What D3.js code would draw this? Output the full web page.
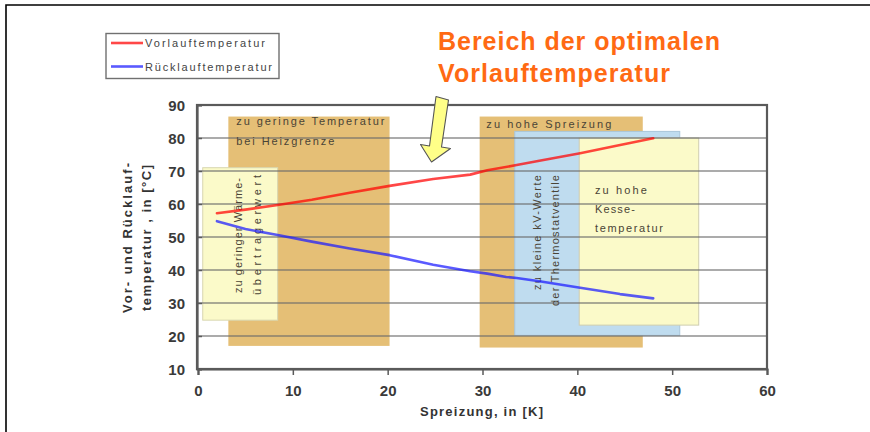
<!DOCTYPE html>
<html><head><meta charset="utf-8">
<script src="https://cdn.jsdelivr.net/npm/d3@7"></script>
<style>
html,body{margin:0;padding:0;background:#fff;}
svg{display:block;font-family:"Liberation Sans",Arial,sans-serif;}
</style></head>
<body><svg id="c" width="870" height="432"></svg>
<script>
// ---------- data ----------
const xTicks = [0, 10, 20, 30, 40, 50, 60];
const yTicks = [10, 20, 30, 40, 50, 60, 70, 80, 90];
const seriesNames = ["Vorlauftemperatur", "Rücklauftemperatur"];
const spreizungVor = [2, 5, 8.4, 12, 16, 20.2, 24.8, 28.7, 30.5, 33.6, 36, 40.3, 44, 48];
const vorlauf      = [57.2, 58.3, 59.7, 61.3, 63.4, 65.5, 67.6, 68.9, 70.2, 71.8, 73.1, 75.4, 77.6, 79.9];
const spreizungRueck = [2, 5, 8.4, 12, 16, 20.2, 24.8, 28.7, 30.5, 32.5, 33.6, 36, 40.3, 44.5, 48];
const ruecklauf      = [54.8, 52.4, 50.6, 48.6, 46.5, 44.5, 41.6, 39.6, 38.9, 37.9, 37.6, 36.6, 34.6, 32.7, 31.4];
const zoneNames = ["tiefHeizgrenze", "waermeuebertrager", "spreizung", "kvWerte", "kessel"];
const zoneX0 = [3.2, 0.5, 29.7, 33.4, 40.2];
const zoneX1 = [20.2, 8.4, 46.9, 50.8, 52.8];
const zoneY0 = [17, 24.8, 16.5, 20.2, 23.3];
const zoneY1 = [86.5, 71, 86.5, 82, 80];
const zoneLabels = [
  ["zu geringe Temperatur", "bei Heizgrenze"],
  ["zu geringer Wärme-", "übertragerwert"],
  ["zu hohe Spreizung"],
  ["zu kleine kV-Werte", "der Thermostatventile"],
  ["zu hohe", "Kesse-", "temperatur"]
];
const titleLines = ["Bereich der optimalen", "Vorlauftemperatur"];
const xTitle = "Spreizung, in [K]";
const yTitleLines = ["Vor- und Rücklauf-", "temperatur , in [°C]"];

// ---------- styles ----------
const zoneStyle = {
  tiefHeizgrenze:   {fill:"#e5bf76", stroke:"none", vertical:false, dx:8, dy:[8.5,28.5], len:[148,98]},
  waermeuebertrager:{fill:"#fbfac9", stroke:"#d8d6b0", vertical:true, dx:[39,58], startY:[293,295], len:[115,120]},
  spreizung:        {fill:"#e5bf76", stroke:"none", vertical:false, dx:6.7, dy:[11.5], len:[125]},
  kvWerte:          {fill:"#bfdcef", stroke:"#a9c6da", vertical:true, dx:[26,44], startY:[290,306], len:[115,131]},
  kessel:           {fill:"#fbfac9", stroke:"#cfcdb0", vertical:false, dx:15.7, dy:[55.5,74.5,93.5], len:[52,40,68]}
};
const lineColors = ["#ff0000", "#1a1aff"];

const svg = d3.select("#c");
const x = d3.scaleLinear().domain([0, 60]).range([198, 767]);
const y = d3.scaleLinear().domain([10, 90]).range([369, 105]);

// outer frame
svg.append("path").attr("d","M6,432 L6,5 L870,5").attr("fill","none").attr("stroke","#000").attr("stroke-width",1.6);

// zones
const zones = zoneNames.map((n,i)=>({name:n,x0:zoneX0[i],x1:zoneX1[i],y0:zoneY0[i],y1:zoneY1[i],labels:zoneLabels[i]}));
const zg = svg.append("g");
zones.forEach(z=>{
  const s = zoneStyle[z.name];
  const rx = x(z.x0), ry = y(z.y1), rw = x(z.x1)-x(z.x0), rh = y(z.y0)-y(z.y1);
  zg.append("rect").attr("x",rx).attr("y",ry).attr("width",rw).attr("height",rh)
    .attr("fill",s.fill).attr("stroke",s.stroke).attr("stroke-width",1);
});

// gridlines (over zones, semi-transparent)
svg.append("g").selectAll("line").data(yTicks.filter(v=>v>10 && v<90)).join("line")
  .attr("x1",x(0)).attr("x2",x(60)).attr("y1",d=>y(d)).attr("y2",d=>y(d))
  .attr("stroke","#6a6a6a").attr("stroke-opacity",0.75).attr("stroke-width",1.5);

// zone labels
zones.forEach(z=>{
  const s = zoneStyle[z.name];
  const rx = x(z.x0), ry = y(z.y1);
  z.labels.forEach((t,j)=>{
    const txt = zg.node().parentNode; // dummy
    if(!s.vertical){
      svg.append("text").attr("x",rx+s.dx).attr("y",ry+s.dy[j]).text(t)
        .attr("font-size",11).attr("fill","#4a4436")
        .attr("textLength",s.len[j]).attr("lengthAdjust","spacing");
    } else {
      const bx = rx + s.dx[j], by = s.startY[j];
      svg.append("text").attr("transform",`translate(${bx},${by}) rotate(-90)`).text(t)
        .attr("font-size",11).attr("fill","#4a4436")
        .attr("textLength",s.len[j]).attr("lengthAdjust","spacing");
    }
  });
});

// plot frame
svg.append("rect").attr("x",x(0)-1).attr("y",y(90)).attr("width",x(60)-x(0)+1).attr("height",y(10)-y(90))
  .attr("fill","none").attr("stroke","#5a5a5a").attr("stroke-width",2.2);

// axes
const xAxis = d3.axisBottom(x).tickValues(xTicks).tickSize(6).tickPadding(10).tickFormat(d3.format("d"));
const gx = svg.append("g").attr("transform",`translate(0,${y(10)})`).call(xAxis);
gx.select(".domain").attr("stroke","#5a5a5a").attr("stroke-width",2.2);
gx.selectAll(".tick line").attr("stroke","#5a5a5a").attr("stroke-width",1.5);
gx.selectAll(".tick text").attr("font-size",15).attr("font-weight","bold").attr("fill","#3a3a3a")
  .attr("font-family","Liberation Sans, Arial, sans-serif");

const yAxis = d3.axisLeft(y).tickValues(yTicks).tickSize(-5).tickPadding(12).tickFormat(d3.format("d"));
const gy = svg.append("g").attr("transform",`translate(${x(0)-1},0)`).call(yAxis);
gy.select(".domain").attr("stroke","#5a5a5a").attr("stroke-width",2.2);
gy.selectAll(".tick line").attr("stroke","#5a5a5a").attr("stroke-width",1.5);
gy.selectAll(".tick text").attr("font-size",15).attr("font-weight","bold").attr("fill","#3a3a3a")
  .attr("font-family","Liberation Sans, Arial, sans-serif").attr("dy","0.36em");

// data lines
const line = d3.line().x(d=>x(d[0])).y(d=>y(d[1]));
const vorData = spreizungVor.map((s,i)=>[s,vorlauf[i]]);
const rueData = spreizungRueck.map((s,i)=>[s,ruecklauf[i]]);
[vorData, rueData].forEach((d,i)=>{
  svg.append("path").datum(d).attr("d",line).attr("fill","none")
    .attr("stroke",lineColors[i]).attr("stroke-opacity",0.72).attr("stroke-width",2.6)
    .attr("stroke-linejoin","round").attr("stroke-linecap","round");
});

// axis titles
svg.append("text").attr("x",481.5).attr("y",416).attr("text-anchor","middle").text(xTitle)
  .attr("font-size",13).attr("font-weight","bold").attr("fill","#333")
  .attr("textLength",123).attr("lengthAdjust","spacing");
[[132,150],[151,146]].forEach((p,i)=>{
  svg.append("text").attr("transform",`translate(${p[0]},${238}) rotate(-90)`).attr("text-anchor","middle")
    .text(yTitleLines[i]).attr("font-size",13).attr("font-weight","bold").attr("fill","#333")
    .attr("textLength",p[1]).attr("lengthAdjust","spacing");
});

// legend
const lg = svg.append("g");
lg.append("rect").attr("x",106).attr("y",33.5).attr("width",173).attr("height",45)
  .attr("fill","#fff").attr("stroke","#707070").attr("stroke-width",1.4);
const legendLen = [120,127];
seriesNames.forEach((n,i)=>{
  const ly = 43 + i*23.5;
  lg.append("line").attr("x1",111).attr("x2",143).attr("y1",ly).attr("y2",ly)
    .attr("stroke",lineColors[i]).attr("stroke-opacity",0.72).attr("stroke-width",2.6);
  lg.append("text").attr("x",145).attr("y",ly+4).text(n).attr("font-size",11).attr("fill","#444")
    .attr("textLength",legendLen[i]).attr("lengthAdjust","spacing");
});

// title
const titleLen = [282, 232];
titleLines.forEach((t,i)=>{
  svg.append("text").attr("x",438).attr("y",50+i*32).text(t)
    .attr("font-size",25).attr("font-weight","bold").attr("fill","#ff6a13")
    .attr("textLength",titleLen[i]).attr("lengthAdjust","spacing");
});

// arrow annotation
svg.append("path")
  .attr("d","M436,96.5 L448.5,100 L441.5,147 L450.5,148.5 L431.5,162 L420.5,144.5 L429.5,146 Z")
  .attr("fill","#ffff88").attr("stroke","#555").attr("stroke-width",1.1).attr("stroke-linejoin","round");
</script>
</body></html>
